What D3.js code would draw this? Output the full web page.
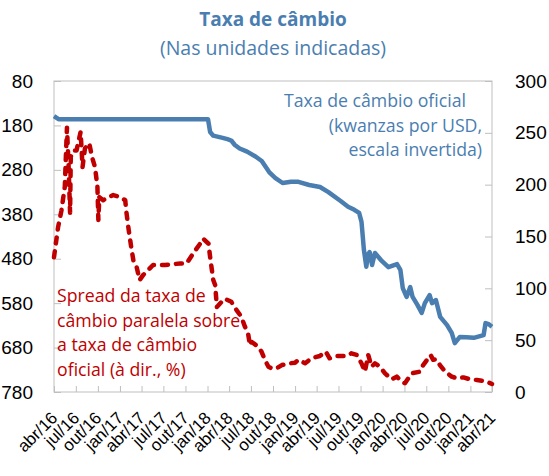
<!DOCTYPE html>
<html>
<head>
<meta charset="utf-8">
<script src="https://cdn.jsdelivr.net/npm/d3@7"></script>
<style>
  body { margin: 0; background: #fff; }
  svg { font-family: "Open Sans", sans-serif; }
</style>
</head>
<body>
<div id="svg-container"></div>
<script>
////////////////////////////////////////////////////////////////////
////////////////////////////  Data  ////////////////////////////////
// official exchange rate, kwanzas per USD (left axis, inverted)
const officialRate = [
  ["2016-04-01", 159], ["2016-04-20", 165.9], ["2018-01-03", 165.9],
  ["2018-01-12", 195], ["2018-01-25", 203], ["2018-03-05", 208],
  ["2018-03-25", 211], ["2018-04-10", 214], ["2018-04-25", 224],
  ["2018-05-15", 232], ["2018-06-15", 239], ["2018-07-20", 250],
  ["2018-08-15", 260], ["2018-09-15", 285], ["2018-10-10", 298],
  ["2018-11-10", 309.6], ["2018-12-15", 306.6], ["2019-01-15", 307],
  ["2019-03-01", 314], ["2019-04-15", 318.6], ["2019-05-20", 330],
  ["2019-07-10", 350], ["2019-08-10", 363], ["2019-09-05", 370],
  ["2019-09-25", 377], ["2019-10-05", 397], ["2019-10-15", 460],
  ["2019-10-25", 498], ["2019-11-01", 471], ["2019-11-08", 465],
  ["2019-11-18", 494], ["2019-11-30", 467], ["2019-12-25", 483],
  ["2020-01-25", 499], ["2020-03-01", 492], ["2020-03-15", 505],
  ["2020-03-25", 546], ["2020-04-10", 566], ["2020-04-25", 544],
  ["2020-05-05", 566], ["2020-05-25", 584], ["2020-06-12", 602],
  ["2020-06-25", 580], ["2020-07-15", 562], ["2020-07-25", 580],
  ["2020-08-10", 573], ["2020-08-28", 611], ["2020-09-25", 629],
  ["2020-10-15", 647], ["2020-10-28", 670], ["2020-11-18", 656],
  ["2020-12-15", 657], ["2021-01-15", 658], ["2021-02-25", 652],
  ["2021-03-05", 625], ["2021-03-20", 628], ["2021-04-01", 633]
];

// spread of parallel rate over official rate, % (right axis)
const spread = [
  ["2016-04-01", 130], ["2016-04-18", 159], ["2016-05-02", 175],
  ["2016-05-16", 198], ["2016-05-20", 224], ["2016-05-25", 255],
  ["2016-06-01", 217], ["2016-06-07", 173], ["2016-06-10", 227],
  ["2016-06-20", 233], ["2016-07-04", 233], ["2016-07-21", 251],
  ["2016-07-29", 217], ["2016-08-08", 235], ["2016-08-26", 240],
  ["2016-09-06", 227], ["2016-09-19", 217], ["2016-09-29", 198],
  ["2016-10-03", 166], ["2016-10-07", 188], ["2016-10-23", 185],
  ["2016-11-07", 187], ["2016-12-04", 190], ["2017-01-02", 188],
  ["2017-01-23", 185], ["2017-01-27", 175], ["2017-02-06", 157],
  ["2017-02-13", 146], ["2017-02-18", 138], ["2017-02-26", 127],
  ["2017-03-11", 121], ["2017-03-24", 108], ["2017-04-08", 113],
  ["2017-04-22", 116], ["2017-05-19", 122.5], ["2017-07-07", 122.5],
  ["2017-09-09", 124], ["2017-10-06", 124], ["2017-11-03", 134],
  ["2017-12-01", 143], ["2017-12-14", 148], ["2018-01-05", 143],
  ["2018-01-12", 130], ["2018-01-19", 118], ["2018-01-25", 108],
  ["2018-02-02", 103], ["2018-02-09", 82], ["2018-03-13", 90],
  ["2018-04-10", 87], ["2018-05-02", 79], ["2018-05-22", 72.6],
  ["2018-06-06", 63], ["2018-06-19", 56.6], ["2018-06-27", 45],
  ["2018-07-03", 48.5], ["2018-07-31", 43.7], ["2018-08-14", 39],
  ["2018-08-28", 31], ["2018-09-12", 24.4], ["2018-09-25", 22.8],
  ["2018-10-16", 22.8], ["2018-11-07", 26], ["2018-12-11", 27.7],
  ["2019-01-01", 28.3], ["2019-01-15", 31], ["2019-02-12", 27.7],
  ["2019-03-10", 32.5], ["2019-04-14", 34.7], ["2019-05-09", 39],
  ["2019-05-25", 32.5], ["2019-06-23", 34.7], ["2019-08-04", 34.7],
  ["2019-08-24", 37.3], ["2019-09-15", 35.7], ["2019-10-05", 27.7],
  ["2019-10-19", 19.6], ["2019-11-02", 35.7], ["2019-11-16", 24.4],
  ["2019-11-30", 27.7], ["2019-12-21", 24.4], ["2020-01-11", 18],
  ["2020-02-08", 12.2], ["2020-02-29", 14.8], ["2020-03-20", 10],
  ["2020-04-03", 8.4], ["2020-04-17", 13.2], ["2020-05-01", 18],
  ["2020-06-05", 19.6], ["2020-06-18", 26], ["2020-07-09", 32.5],
  ["2020-07-19", 35.7], ["2020-07-30", 31], ["2020-08-13", 31.5],
  ["2020-08-27", 26], ["2020-09-18", 19.6], ["2020-10-15", 14.8],
  ["2020-11-06", 13.2], ["2020-12-03", 14.1], ["2020-12-31", 12.2],
  ["2021-01-28", 11.6], ["2021-02-19", 10.9], ["2021-03-09", 10],
  ["2021-04-01", 7.7]
];

// ticks
const xTickLabels = [
  "abr/16", "jul/16", "out/16", "jan/17", "abr/17", "jul/17", "out/17",
  "jan/18", "abr/18", "jul/18", "out/18", "jan/19", "abr/19", "jul/19",
  "out/19", "jan/20", "abr/20", "jul/20", "out/20", "jan/21", "abr/21"
];
const leftTicks = [80, 180, 280, 380, 480, 580, 680, 780];
const rightTicks = [0, 50, 100, 150, 200, 250, 300];

////////////////////////////////////////////////////////////////////
////////////////////////////  Init  ///////////////////////////////
const width = 549;
const height = 476;
const margin = { top: 81, right: 57, bottom: 84, left: 54 };

const svg = d3
  .select("#svg-container")
  .append("svg")
  .attr("width", width)
  .attr("height", height);

const parseDate = d3.timeParse("%Y-%m-%d");
const start = parseDate("2016-04-01");
const end = parseDate("2021-04-01");

// scale
const xScale = d3
  .scaleTime()
  .domain([start, end])
  .range([margin.left, width - margin.right]);
const yLeft = d3
  .scaleLinear()
  .domain([80, 780])
  .range([margin.top, height - margin.bottom]);
const yRight = d3
  .scaleLinear()
  .domain([0, 300])
  .range([height - margin.bottom, margin.top]);

const blue = "#4a7eb0";
const red = "#c00000";
const grey = "#bfbfbf";

// frame
svg
  .append("rect")
  .attr("x", margin.left)
  .attr("y", margin.top)
  .attr("width", width - margin.left - margin.right)
  .attr("height", height - margin.top - margin.bottom)
  .attr("fill", "none")
  .attr("stroke", grey);

// axes
const xTickDates = d3.timeMonth.every(3).range(start, d3.timeDay.offset(end, 1));

const xAxis = svg
  .append("g")
  .attr("transform", `translate(0,${height - margin.bottom})`)
  .call(
    d3
      .axisBottom(xScale)
      .tickValues(xTickDates)
      .tickSizeInner(-6)
      .tickSizeOuter(0)
      .tickFormat((d, i) => xTickLabels[i])
  );
xAxis
  .selectAll("text")
  .attr("text-anchor", "end")
  .attr("dy", null)
  .attr("y", null)
  .attr("transform", "translate(4,27) rotate(-45)")
  .style("font-size", "17px");

const leftAxis = svg
  .append("g")
  .attr("transform", `translate(${margin.left},0)`)
  .call(d3.axisLeft(yLeft).tickValues(leftTicks).tickSizeInner(-7).tickSizeOuter(0).tickPadding(21));

const rightAxis = svg
  .append("g")
  .attr("transform", `translate(${width - margin.right},0)`)
  .call(d3.axisRight(yRight).tickValues(rightTicks).tickSizeInner(-7).tickSizeOuter(0).tickPadding(23));

[xAxis, leftAxis, rightAxis].forEach((g) => {
  g.select(".domain").remove();
  g.selectAll("line").attr("stroke", grey);
  g.selectAll("text").attr("fill", "#000");
});
leftAxis.selectAll("text").style("font-size", "19px");
rightAxis.selectAll("text").style("font-size", "19px");

// lines
const rateLine = d3
  .line()
  .x((d) => xScale(parseDate(d[0])))
  .y((d) => yLeft(d[1]));
const spreadLine = d3
  .line()
  .x((d) => xScale(parseDate(d[0])))
  .y((d) => yRight(d[1]));

svg
  .append("path")
  .datum(officialRate)
  .attr("d", rateLine)
  .attr("fill", "none")
  .attr("stroke", blue)
  .attr("stroke-width", 4.5)
  .attr("stroke-linejoin", "round");

svg
  .append("path")
  .datum(spread)
  .attr("d", spreadLine)
  .attr("fill", "none")
  .attr("stroke", red)
  .attr("stroke-width", 4.5)
  .attr("stroke-linecap", "round")
  .attr("stroke-linejoin", "round")
  .attr("stroke-dasharray", "6,8");

// titles
svg
  .append("text")
  .attr("x", 273)
  .attr("y", 26)
  .attr("text-anchor", "middle")
  .attr("fill", blue)
  .style("font-size", "19px")
  .style("font-weight", "bold")
  .text("Taxa de câmbio");
svg
  .append("text")
  .attr("x", 273)
  .attr("y", 55)
  .attr("text-anchor", "middle")
  .attr("fill", blue)
  .style("font-size", "19.5px")
  .text("(Nas unidades indicadas)");

// annotations
const blueNote = ["Taxa de câmbio oficial", "(kwanzas por USD,", "escala invertida)"];
svg
  .append("g")
  .selectAll("text")
  .data(blueNote)
  .join("text")
  .attr("x", (d, i) => (i === 0 ? 466 : 482))
  .attr("y", (d, i) => 107 + i * 24.5)
  .attr("text-anchor", "end")
  .attr("fill", blue)
  .style("font-size", "17.7px")
  .text((d) => d);

const redNote = ["Spread da taxa de", "câmbio paralela sobre", "a taxa de câmbio", "oficial (à dir., %)"];
svg
  .append("g")
  .selectAll("text")
  .data(redNote)
  .join("text")
  .attr("x", 57)
  .attr("y", (d, i) => 302 + i * 24.5)
  .attr("fill", red)
  .style("font-size", "17.7px")
  .text((d) => d);
</script>
</body>
</html>
